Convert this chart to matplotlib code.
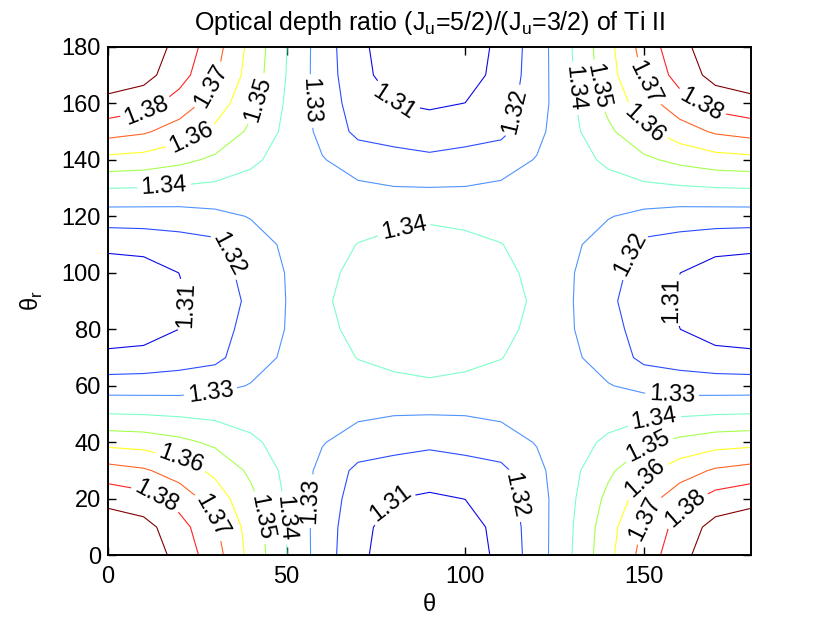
import numpy as np
import matplotlib
matplotlib.use('Agg')
import matplotlib.pyplot as plt

plt.rcParams['font.family'] = ['Liberation Sans', 'DejaVu Sans']
plt.rcParams['mathtext.fontset'] = 'custom'
plt.rcParams['mathtext.rm'] = 'Liberation Sans'

# grid nodes (degrees)
theta = [0, 10, 20, 30, 40, 50, 60, 70, 80, 90, 100, 110, 120, 130, 140, 150, 160, 170, 180]
theta_r = [0, 10, 20, 30, 40, 50, 60, 70, 80, 90, 100, 110, 120, 130, 140, 150, 160, 170, 180]

# ratio for one quadrant (rows: theta_r 0..90, cols: theta 0..90)
quarter = [
    [1.3990, 1.3960, 1.3870, 1.3740, 1.3570, 1.3402, 1.3250, 1.3125, 1.3045, 1.3020],
    [1.3960, 1.3935, 1.3839, 1.3713, 1.3559, 1.3397, 1.3251, 1.3134, 1.3055, 1.3040],
    [1.3870, 1.3839, 1.3759, 1.3654, 1.3526, 1.3387, 1.3255, 1.3155, 1.3101, 1.3085],
    [1.3740, 1.3713, 1.3654, 1.3577, 1.3481, 1.3376, 1.3274, 1.3175, 1.3160, 1.3150],
    [1.3570, 1.3559, 1.3526, 1.3481, 1.3420, 1.3359, 1.3305, 1.3260, 1.3234, 1.3218],
    [1.3402, 1.3397, 1.3387, 1.3376, 1.3359, 1.3340, 1.3325, 1.3315, 1.3304, 1.3302],
    [1.3250, 1.3251, 1.3255, 1.3274, 1.3305, 1.3325, 1.3343, 1.3358, 1.3385, 1.3388],
    [1.3125, 1.3134, 1.3155, 1.3175, 1.3260, 1.3315, 1.3358, 1.3403, 1.3415, 1.3430],
    [1.3045, 1.3055, 1.3101, 1.3160, 1.3234, 1.3304, 1.3385, 1.3415, 1.3445, 1.3455],
    [1.3020, 1.3040, 1.3085, 1.3150, 1.3218, 1.3302, 1.3388, 1.3430, 1.3455, 1.3462],
]

levels = [1.31, 1.32, 1.33, 1.34, 1.35, 1.36, 1.37, 1.38, 1.39]
line_colors = ['#0a0ae6', '#2a4cff', '#4f93ff', '#7dffc8', '#a6ff4c',
               '#ffff20', '#ff6424', '#ff2222', '#800000']

# label spots (theta, theta_r) as placed in the original
label_pos = [
    (13.4, 20.4), (29.6, 14.4), (20.4, 33.6), (42.1, 13.2), (49.1, 13.2),
    (57.4, 19.2), (28.7, 58.8), (79.6, 18.0), (111.6, 20.4),
    (21.5, 89.0), (31.0, 105.6),
    (11.1, 156.6), (28.7, 166.2), (23.6, 147.0), (42.1, 161.4), (15.8, 129.6),
    (56.0, 160.8), (79.2, 159.6), (82.9, 115.2),
    (112.0, 157.8), (127.8, 165.0), (135.2, 165.6), (149.1, 166.2),
    (149.6, 151.8), (165.3, 157.8),
    (147.2, 106.2), (156.0, 91.0), (157.9, 57.6), (152.8, 48.6),
    (150.9, 39.0), (150.0, 27.6), (148.6, 14.4), (160.7, 18.0),
]

q = np.array(quarter)
Z = np.hstack([q, q[:, -2::-1]])
Z = np.vstack([Z, Z[-2::-1, :]])

fig = plt.figure(figsize=(8.3, 6.24), dpi=100)
ax = fig.add_axes([0.13, 0.11, 0.775, 0.815])

cs = ax.contour(theta, theta_r, Z, levels=levels, colors=line_colors, linewidths=0.8)
ax.clabel(cs, fmt='%.2f', fontsize=17, colors='k', manual=label_pos,
          inline=True, inline_spacing=4)

ax.set_xlim(0, 180)
ax.set_ylim(0, 180)
ax.set_xticks([0, 50, 100, 150])
ax.set_yticks(range(0, 181, 20))
ax.tick_params(direction='in', top=True, right=True, length=6, width=1,
               labelsize=17)
ax.tick_params(axis='x', pad=8)
ax.tick_params(axis='y', pad=5)
for s in ax.spines.values():
    s.set_linewidth(1.4)

ax.set_title('Optical depth ratio (J$_\\mathrm{u}$=5/2)/(J$_\\mathrm{u}$=3/2) of Ti II',
             fontsize=18, family=['Liberation Sans Narrow', 'Liberation Sans'], pad=12)
ax.set_xlabel('θ', fontsize=17, labelpad=4)
ax.set_ylabel('θ$_\\mathrm{r}$', fontsize=17, labelpad=12)

fig.savefig('out.png', dpi=100)
